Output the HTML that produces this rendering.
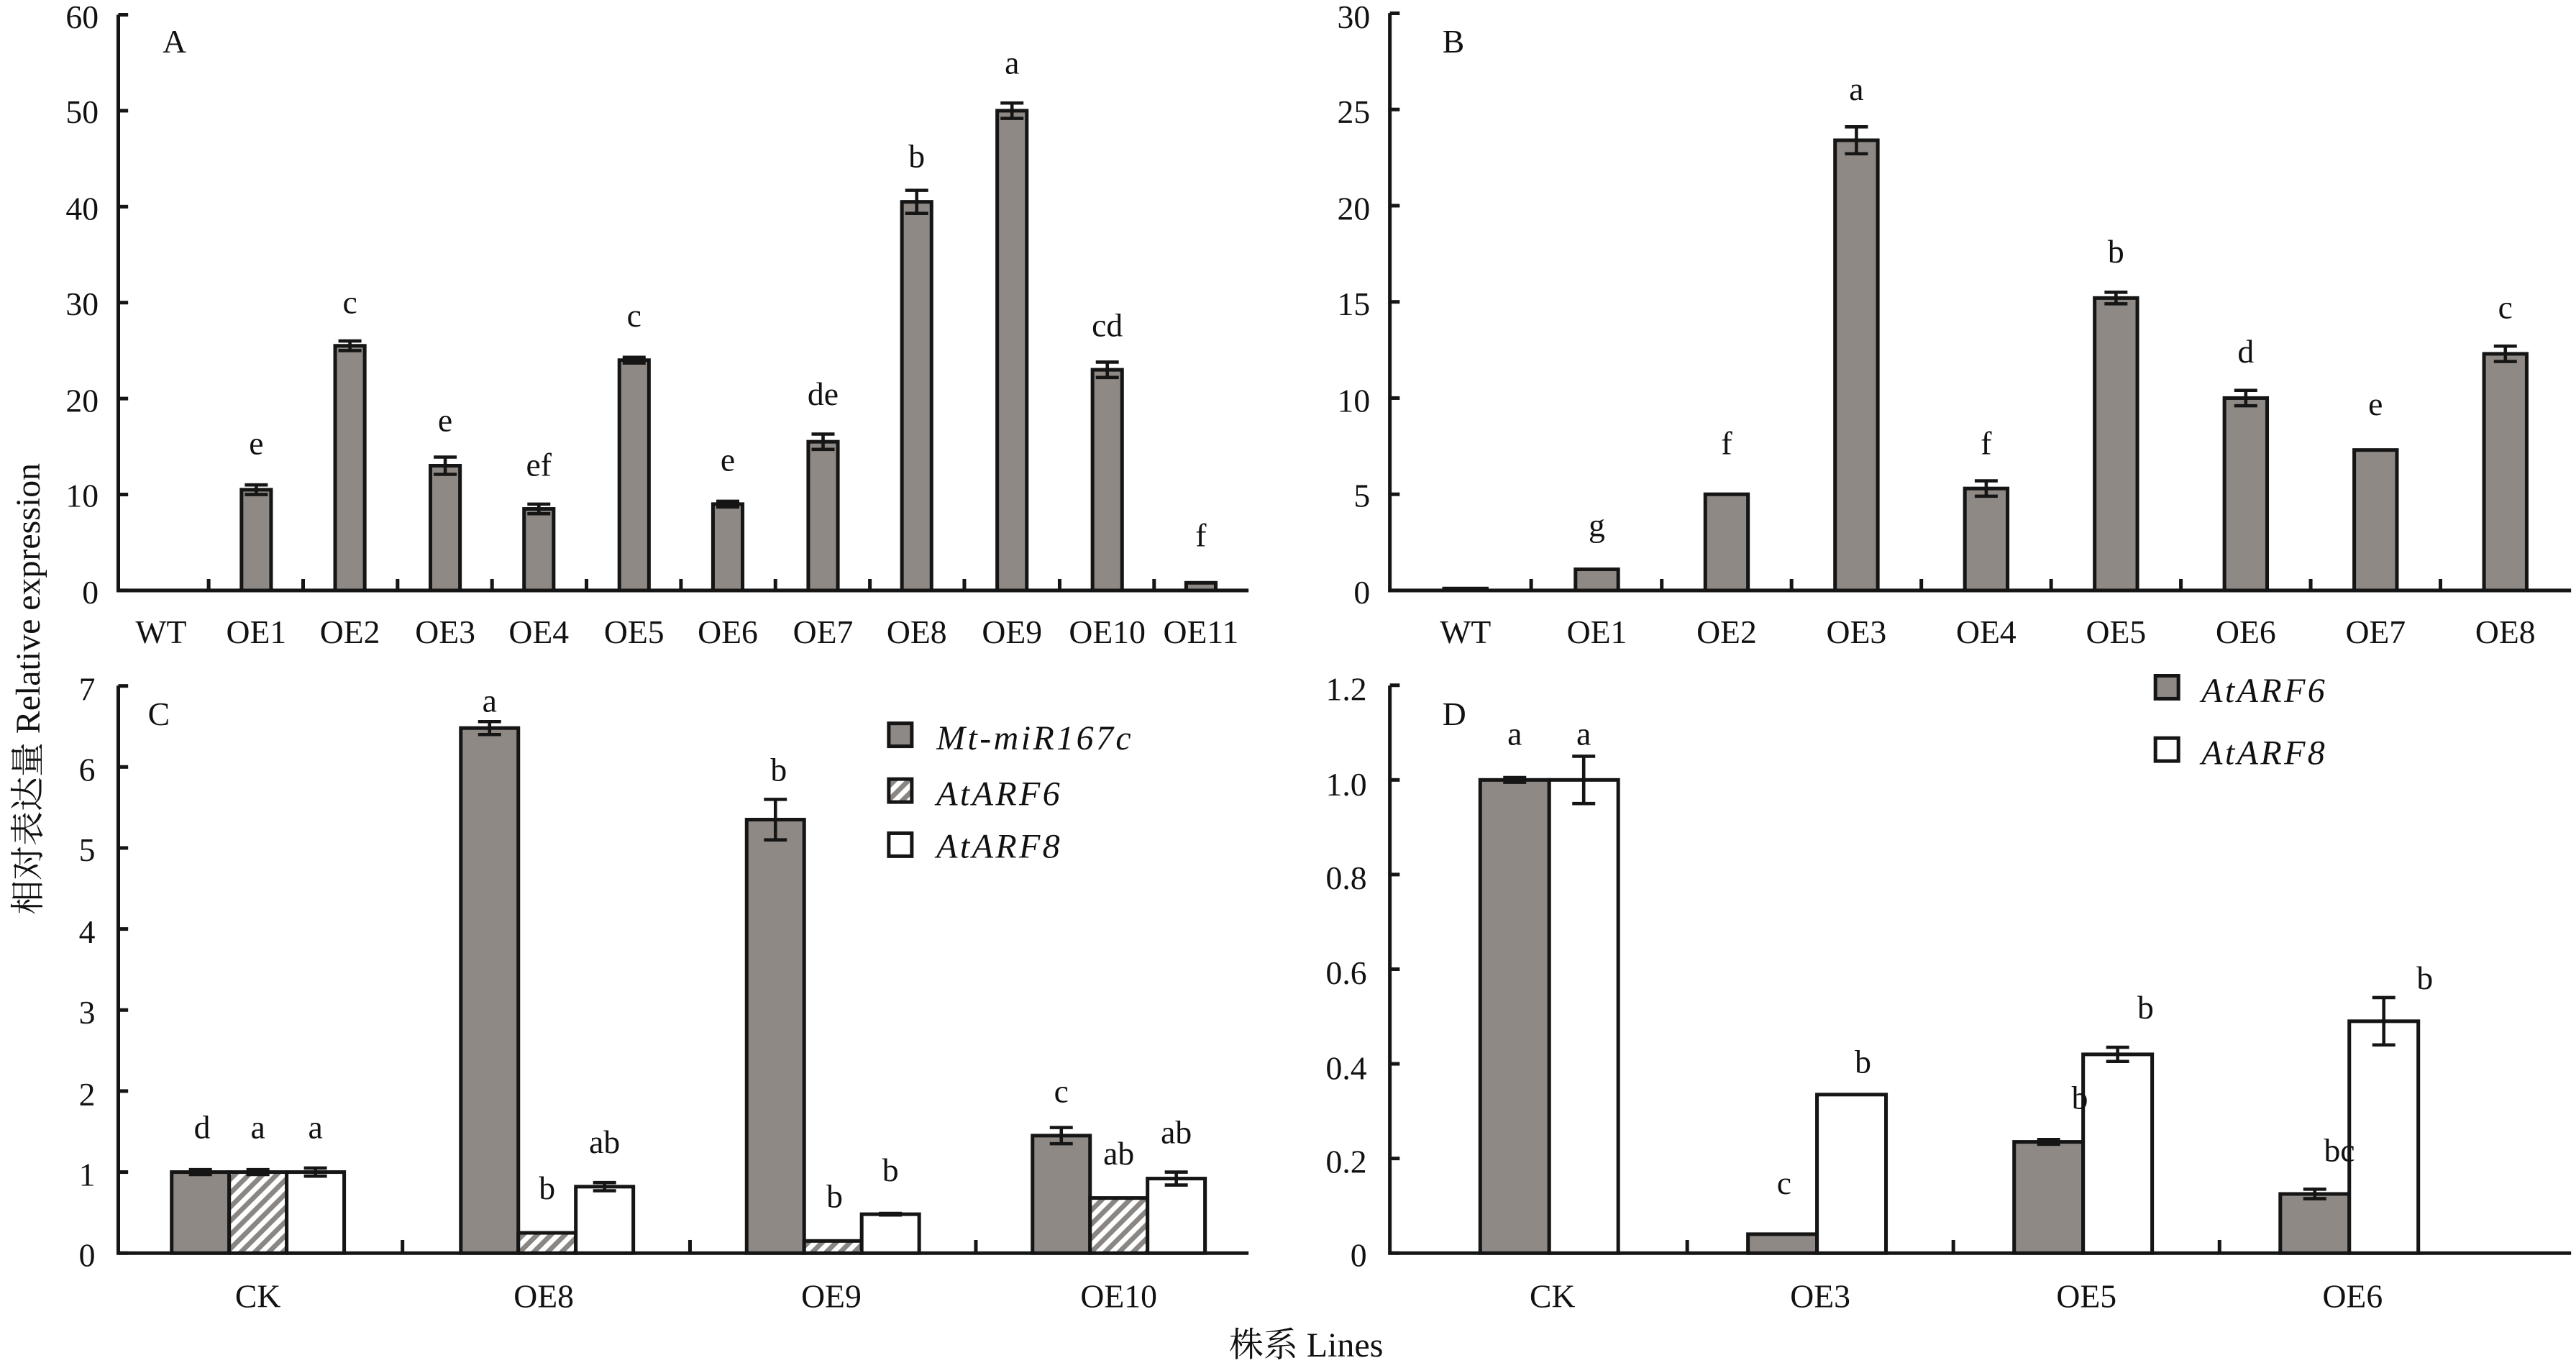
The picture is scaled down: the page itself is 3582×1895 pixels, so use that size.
<!DOCTYPE html>
<html><head><meta charset="utf-8"><style>
html,body{margin:0;padding:0;background:#fff;}
svg{display:block;}
text{font-family:"Liberation Serif","Noto Serif CJK SC",serif;fill:#111;}
.t{font-size:20px;}
.s{font-family:"Liberation Sans",sans-serif;font-size:20px;}
.lg{font-family:"Liberation Serif",serif;font-style:italic;font-size:21px;letter-spacing:1.5px;}
</style></head><body>
<svg id="c" width="3582" height="1895" viewBox="0 0 1568 831" preserveAspectRatio="none" xmlns="http://www.w3.org/2000/svg">
<defs>
<pattern id="h" width="6" height="6" patternUnits="userSpaceOnUse" patternTransform="rotate(45)">
<rect width="6" height="6" fill="#fff"/><rect width="3" height="6" fill="#8a8683"/>
</pattern>
</defs>
<g id="g" stroke="#151515" stroke-width="2.2" fill="none"></g>
<!-- Panel A -->
<g class="t" text-anchor="end">
<text x="60" y="17">60</text><text x="60" y="75">50</text><text x="60" y="134">40</text>
<text x="60" y="192">30</text><text x="60" y="251">20</text><text x="60" y="309">10</text><text x="60" y="368">0</text>
</g>
<text class="t" x="99" y="32">A</text>
<g class="t" text-anchor="middle">
<text x="98" y="392">WT</text><text x="156" y="392">OE1</text><text x="213" y="392">OE2</text><text x="271" y="392">OE3</text>
<text x="328" y="392">OE4</text><text x="386" y="392">OE5</text><text x="443" y="392">OE6</text><text x="501" y="392">OE7</text>
<text x="558" y="392">OE8</text><text x="616" y="392">OE9</text><text x="674" y="392">OE10</text><text x="731" y="392">OE11</text>
<text x="156" y="277">e</text><text x="213" y="191">c</text><text x="271" y="263">e</text><text x="328" y="290">ef</text>
<text x="386" y="199">c</text><text x="443" y="287">e</text><text x="501" y="247">de</text><text x="558" y="102">b</text>
<text x="616" y="45">a</text><text x="674" y="205">cd</text><text x="731" y="333">f</text>
</g>
<!-- Panel B -->
<g class="t" text-anchor="end">
<text x="834" y="17">30</text><text x="834" y="75">25</text><text x="834" y="134">20</text>
<text x="834" y="192">15</text><text x="834" y="251">10</text><text x="834" y="309">5</text><text x="834" y="368">0</text>
</g>
<text class="t" x="878" y="32">B</text>
<g class="t" text-anchor="middle">
<text x="892" y="392">WT</text><text x="972" y="392">OE1</text><text x="1051" y="392">OE2</text><text x="1130" y="392">OE3</text>
<text x="1209" y="392">OE4</text><text x="1288" y="392">OE5</text><text x="1367" y="392">OE6</text><text x="1446" y="392">OE7</text><text x="1525" y="392">OE8</text>
</g>
<g class="s" text-anchor="middle">
<text x="972" y="327">g</text><text x="1051" y="277">f</text><text x="1130" y="61">a</text><text x="1209" y="277">f</text>
<text x="1288" y="160">b</text><text x="1367" y="221">d</text><text x="1446" y="253">e</text><text x="1525" y="194">c</text>
</g>
<!-- Panel C -->
<g class="t" text-anchor="end">
<text x="58" y="427">7</text><text x="58" y="476">6</text><text x="58" y="525">5</text><text x="58" y="575">4</text>
<text x="58" y="624">3</text><text x="58" y="674">2</text><text x="58" y="723">1</text><text x="58" y="772">0</text>
</g>
<text class="t" x="90" y="442">C</text>
<g class="t" text-anchor="middle">
<text x="157" y="797">CK</text><text x="331" y="797">OE8</text><text x="506" y="797">OE9</text><text x="681" y="797">OE10</text>
</g>
<g class="t" text-anchor="middle">
<text x="123" y="694">d</text><text x="157" y="694">a</text><text x="192" y="694">a</text>
<text x="298" y="434">a</text><text x="333" y="731">b</text><text x="368" y="703">ab</text>
<text x="474" y="476">b</text><text x="508" y="736">b</text><text x="542" y="720">b</text>
<text x="646" y="672">c</text><text x="681" y="710">ab</text><text x="716" y="697">ab</text>
</g>
<text class="lg" x="570" y="457">Mt-miR167c</text>
<text class="lg" x="570" y="491">AtARF6</text>
<text class="lg" x="570" y="523">AtARF8</text>
<!-- Panel D -->
<g class="t" text-anchor="end">
<text x="832" y="427">1.2</text><text x="832" y="485">1.0</text><text x="832" y="542">0.8</text><text x="832" y="600">0.6</text>
<text x="832" y="658">0.4</text><text x="832" y="715">0.2</text><text x="832" y="772">0</text>
</g>
<text class="t" x="878" y="442">D</text>
<g class="t" text-anchor="middle">
<text x="945" y="797">CK</text><text x="1108" y="797">OE3</text><text x="1270" y="797">OE5</text><text x="1432" y="797">OE6</text>
</g>
<g class="t" text-anchor="middle">
<text x="922" y="454">a</text><text x="964" y="454">a</text>
<text x="1086" y="728">c</text><text x="1134" y="654">b</text>
<text x="1266" y="676">b</text><text x="1306" y="621">b</text>
<text x="1424" y="708">bc</text><text x="1476" y="603">b</text>
</g>
<text class="lg" x="1340" y="428">AtARF6</text>
<text class="lg" x="1340" y="466">AtARF8</text>
<!-- axis titles -->
<text x="24" y="420" font-size="21" text-anchor="middle" transform="rotate(-90 24 420)" style="font-family:'Liberation Serif','Noto Serif CJK SC',serif">相对表达量 Relative expression</text>
<text x="795" y="827" font-size="21" text-anchor="middle" style="font-family:'Liberation Serif','Noto Serif CJK SC',serif">株系 Lines</text>
</svg>
<script>
var g=document.getElementById('g'),NS='http://www.w3.org/2000/svg';
function el(t,a){var e=document.createElementNS(NS,t);for(var k in a)e.setAttribute(k,a[k]);g.appendChild(e);return e;}
function line(x1,y1,x2,y2,w){el('line',{x1:x1,y1:y1,x2:x2,y2:y2,'stroke-width':w||2.2});}
function bar(x,w,y0,y,f,err,ey){if(y0-y<0.5)y=y0-0.5;el('rect',{x:x,y:y,width:w,height:y0-y,fill:f});
 if(err){var c=x+w/2;line(c,ey(err[0]),c,ey(err[1]),2);line(c-7,ey(err[0]),c+7,ey(err[0]),2);line(c-7,ey(err[1]),c+7,ey(err[1]),2);}}
var G='#8f8985';
// Panel A
var yA=function(v){return 360-v*5.85;};
line(72,9,72,361);line(71,360,760,360);
for(var i=0;i<=6;i++)line(72,yA(i*10),78,yA(i*10));
var cA=[98,156,213,271,328,386,443,501,558,616,674,731];
for(var i=0;i<11;i++){var m=(cA[i]+cA[i+1])/2;line(m,360,m,353);}
var vA=[0,10.5,25.5,13,8.5,24,9,15.5,40.5,50,23,0.8],eA=[0,.5,.5,.9,.5,.3,.3,.8,1.2,.8,.8,0];
for(var i=1;i<12;i++){var v=vA[i];bar(cA[i]-9,18,360,yA(v),G,eA[i]?[v-eA[i],v+eA[i]]:null,yA);}
// Panel B
var yB=function(v){return 360-v*11.73;};
line(846,8,846,361);line(845,360,1565,360);
for(var i=0;i<=6;i++)line(846,yB(i*5),852,yB(i*5));
var cB=[892,972,1051,1130,1209,1288,1367,1446,1525];
for(var i=0;i<8;i++){var m=(cB[i]+cB[i+1])/2;line(m,360,m,353);}
var vB=[0.1,1.1,5,23.4,5.3,15.2,10,7.3,12.3],eB=[0,0,0,.7,.4,.3,.4,0,.4];
for(var i=0;i<9;i++){var v=vB[i];bar(cB[i]-13,26,360,yB(v),G,eB[i]?[v-eB[i],v+eB[i]]:null,yB);}
// Panel C
var yC=function(v){return 764-v*49.4;};
line(72,418,72,765);line(71,764,760,764);
for(var i=0;i<=7;i++)line(72,yC(i),78,yC(i));
[245,420,594].forEach(function(m){line(m,764,m,756);});
var cC=[157,333,507,681];
var vC=[[1,1,1],[6.48,.25,.82],[5.35,.15,.48],[1.45,.68,.92]];
var eC=[[.03,.03,.05],[.08,0,.05],[.25,0,.01],[.1,0,.08]];
var fC=[G,'url(#h)','#fff'];
for(var i=0;i<4;i++)for(var j=0;j<3;j++){var v=vC[i][j],e=eC[i][j];bar(cC[i]-52.5+35*j,35,764,yC(v),fC[j],e?[v-e,v+e]:null,yC);}
el('rect',{x:541,y:441,width:14,height:14,fill:G});
el('rect',{x:541,y:475,width:14,height:14,fill:'url(#h)'});
el('rect',{x:541,y:508,width:14,height:14,fill:'#fff'});
// Panel D
var yD=function(v){return 764-v*288.5;};
line(846,418,846,765);line(845,764,1565,764);
for(var i=0;i<=6;i++)line(846,yD(i*.2),852,yD(i*.2));
[1027,1189,1351].forEach(function(m){line(m,764,m,756);});
var cD=[943,1106,1268,1430];
var vD=[[1,1],[.04,.335],[.235,.42],[.125,.49]],eD=[[.005,.05],[0,0],[.005,.015],[.01,.05]];
for(var i=0;i<4;i++)for(var j=0;j<2;j++){var v=vD[i][j],e=eD[i][j];bar(cD[i]-42+42*j,42,764,yD(v),j?'#fff':G,e?[v-e,v+e]:null,yD);}
el('rect',{x:1312,y:412,width:14,height:14,fill:G});
el('rect',{x:1312,y:450,width:14,height:14,fill:'#fff'});
</script>
</body></html>
